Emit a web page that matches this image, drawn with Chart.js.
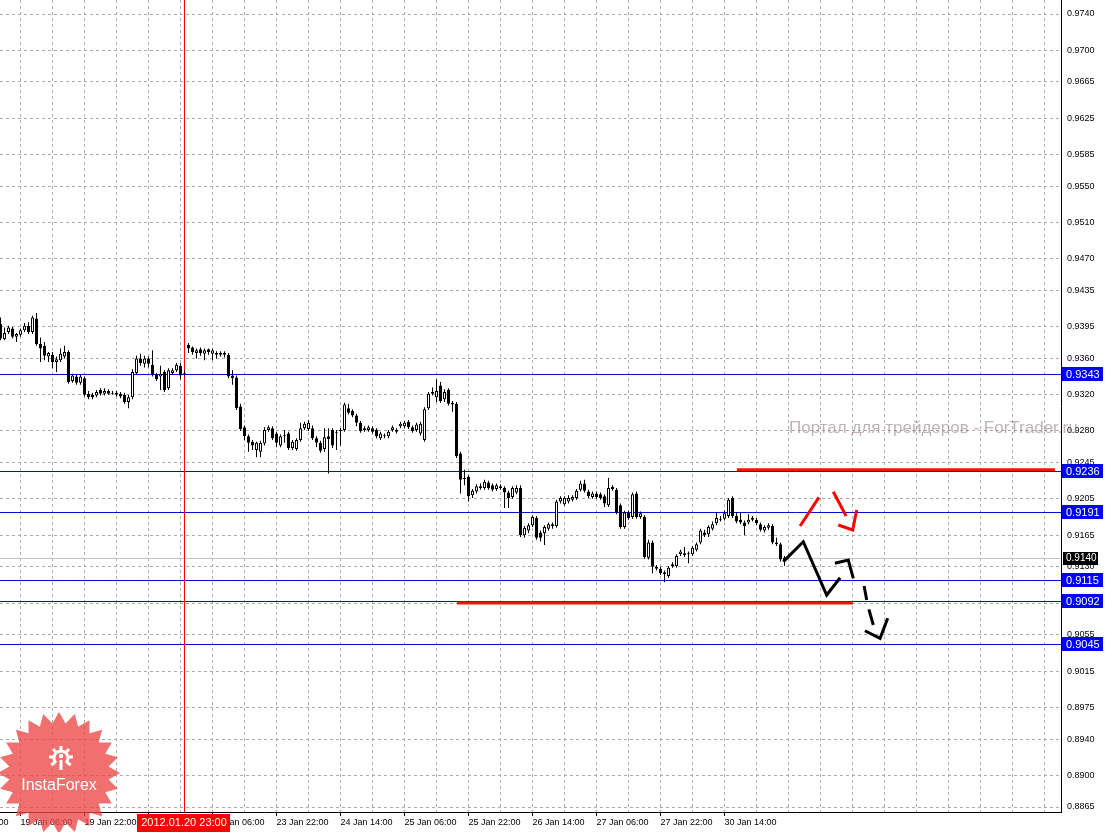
<!DOCTYPE html>
<html>
<head>
<meta charset="utf-8">
<script src="https://cdn.jsdelivr.net/npm/chart.js@4.4.1/dist/chart.umd.min.js"></script>
<style>
  body { margin: 0; background: #ffffff; }
  canvas { display: block; }
</style>
</head>
<body>
<canvas id="chart" width="1105" height="832"></canvas>
<script>
// H1 candles, bar 0 = 19 Jan 01:00
const opens = [
  0.9398,0.9381,0.9389,0.9393,0.9384,0.9386,0.9391,0.9396,0.9389,0.9404,
  0.9376,0.9374,0.9362,0.9364,0.9356,0.9358,0.9362,0.9367,0.9335,0.9340,
  0.9333,0.9338,0.9321,0.9320,0.9319,0.9325,0.9321,0.9324,0.9321,0.9322,
  0.9321,0.9320,0.9312,0.9317,0.9344,0.9360,0.9354,0.9360,0.9353,0.9342,
  0.9340,0.9345,0.9327,0.9344,0.9347,0.9352,0.9344,0.9375,0.9372,0.9366,
  0.9370,0.9365,0.9370,0.9365,0.9366,0.9364,0.9366,0.9364,0.9341,0.9339,
  0.9307,0.9284,0.9274,0.9268,0.9259,0.9257,0.9266,0.9281,0.9283,0.9277,
  0.9264,0.9274,0.9277,0.9261,0.9260,0.9270,0.9283,0.9282,0.9283,0.9272,
  0.9267,0.9260,0.9274,0.9281,0.9278,0.9280,0.9281,0.9305,0.9302,0.9297,
  0.9289,0.9283,0.9281,0.9283,0.9281,0.9272,0.9275,0.9274,0.9281,0.9279,
  0.9285,0.9285,0.9290,0.9284,0.9281,0.9277,0.9270,0.9305,0.9321,0.9317,
  0.9330,0.9315,0.9325,0.9311,0.9310,0.9255,0.9228,0.9229,0.9209,0.9213,
  0.9219,0.9217,0.9223,0.9220,0.9216,0.9219,0.9217,0.9212,0.9207,0.9212,
  0.9217,0.9165,0.9170,0.9176,0.9184,0.9168,0.9167,0.9172,0.9177,0.9175,
  0.9202,0.9199,0.9202,0.9204,0.9206,0.9215,0.9222,0.9213,0.9207,0.9211,
  0.9210,0.9208,0.9198,0.9216,0.9215,0.9198,0.9174,0.9190,0.9185,0.9211,
  0.9185,0.9185,0.9140,0.9157,0.9130,0.9128,0.9122,0.9120,0.9131,0.9131,
  0.9144,0.9143,0.9145,0.9144,0.9149,0.9157,0.9168,0.9166,0.9172,0.9178,
  0.9183,0.9183,0.9186,0.9206,0.9186,0.9182,0.9179,0.9179,0.9182,0.9182,
  0.9177,0.9170,0.9173,0.9175,0.9157,0.9155,0.9136
];
const highs = [
  0.9405,0.9394,0.9396,0.9395,0.9388,0.9393,0.9399,0.9400,0.9407,0.9410,
  0.9383,0.9378,0.9367,0.9367,0.9362,0.9371,0.9374,0.9369,0.9343,0.9342,
  0.9342,0.9340,0.9324,0.9322,0.9325,0.9327,0.9327,0.9326,0.9324,0.9324,
  0.9323,0.9322,0.9320,0.9348,0.9363,0.9365,0.9363,0.9362,0.9369,0.9344,
  0.9352,0.9347,0.9349,0.9349,0.9355,0.9355,0.9347,0.9377,0.9373,0.9371,
  0.9372,0.9371,0.9371,0.9371,0.9368,0.9368,0.9368,0.9366,0.9347,0.9341,
  0.9310,0.9286,0.9276,0.9270,0.9268,0.9269,0.9284,0.9286,0.9285,0.9279,
  0.9276,0.9281,0.9279,0.9270,0.9272,0.9289,0.9290,0.9292,0.9286,0.9274,
  0.9269,0.9283,0.9283,0.9283,0.9281,0.9283,0.9311,0.9310,0.9304,0.9299,
  0.9291,0.9285,0.9286,0.9285,0.9283,0.9279,0.9277,0.9281,0.9286,0.9283,
  0.9290,0.9291,0.9292,0.9286,0.9289,0.9290,0.9306,0.9323,0.9328,0.9337,
  0.9334,0.9326,0.9327,0.9313,0.9312,0.9257,0.9237,0.9231,0.9216,0.9221,
  0.9222,0.9226,0.9225,0.9222,0.9222,0.9221,0.9219,0.9214,0.9219,0.9220,
  0.9220,0.9175,0.9178,0.9187,0.9186,0.9170,0.9176,0.9179,0.9179,0.9204,
  0.9208,0.9208,0.9209,0.9209,0.9216,0.9225,0.9226,0.9215,0.9213,0.9213,
  0.9212,0.9210,0.9228,0.9220,0.9217,0.9200,0.9192,0.9192,0.9212,0.9213,
  0.9191,0.9187,0.9160,0.9159,0.9132,0.9130,0.9126,0.9131,0.9135,0.9144,
  0.9149,0.9152,0.9147,0.9153,0.9157,0.9172,0.9171,0.9176,0.9180,0.9190,
  0.9186,0.9192,0.9206,0.9208,0.9190,0.9190,0.9181,0.9188,0.9186,0.9184,
  0.9179,0.9176,0.9178,0.9177,0.9162,0.9157,0.9142
];
const lows = [
  0.9380,0.9380,0.9387,0.9382,0.9378,0.9384,0.9389,0.9387,0.9387,0.9374,
  0.9356,0.9358,0.9356,0.9349,0.9345,0.9356,0.9360,0.9332,0.9333,0.9331,
  0.9331,0.9318,0.9315,0.9315,0.9317,0.9319,0.9319,0.9320,0.9320,0.9318,
  0.9316,0.9310,0.9305,0.9315,0.9342,0.9352,0.9350,0.9350,0.9340,0.9335,
  0.9325,0.9323,0.9325,0.9342,0.9345,0.9337,0.9340,0.9366,0.9364,0.9360,
  0.9363,0.9358,0.9364,0.9358,0.9360,0.9362,0.9361,0.9338,0.9331,0.9303,
  0.9280,0.9270,0.9257,0.9259,0.9251,0.9251,0.9264,0.9279,0.9270,0.9262,
  0.9262,0.9267,0.9259,0.9259,0.9258,0.9268,0.9281,0.9280,0.9270,0.9262,
  0.9256,0.9257,0.9233,0.9261,0.9259,0.9264,0.9279,0.9298,0.9295,0.9285,
  0.9278,0.9279,0.9279,0.9277,0.9272,0.9270,0.9272,0.9272,0.9279,0.9277,
  0.9283,0.9283,0.9282,0.9278,0.9279,0.9275,0.9268,0.9303,0.9319,0.9312,
  0.9311,0.9312,0.9308,0.9301,0.9250,0.9211,0.9220,0.9202,0.9206,0.9211,
  0.9215,0.9215,0.9215,0.9213,0.9214,0.9215,0.9195,0.9195,0.9205,0.9210,
  0.9163,0.9162,0.9167,0.9174,0.9160,0.9158,0.9154,0.9170,0.9172,0.9173,
  0.9200,0.9197,0.9200,0.9202,0.9204,0.9213,0.9212,0.9206,0.9205,0.9205,
  0.9204,0.9196,0.9196,0.9214,0.9188,0.9172,0.9172,0.9182,0.9183,0.9183,
  0.9183,0.9139,0.9138,0.9123,0.9126,0.9121,0.9113,0.9118,0.9129,0.9129,
  0.9142,0.9141,0.9134,0.9142,0.9147,0.9155,0.9163,0.9163,0.9170,0.9176,
  0.9180,0.9181,0.9184,0.9184,0.9178,0.9177,0.9165,0.9177,0.9180,0.9176,
  0.9169,0.9168,0.9171,0.9155,0.9153,0.9136,0.9131
];
const closes = [
  0.9382,0.9388,0.9394,0.9384,0.9387,0.9391,0.9396,0.9389,0.9405,0.9376,
  0.9371,0.9363,0.9366,0.9356,0.9359,0.9365,0.9367,0.9334,0.9341,0.9333,
  0.9340,0.9320,0.9317,0.9317,0.9323,0.9321,0.9324,0.9321,0.9322,0.9320,
  0.9318,0.9312,0.9317,0.9345,0.9360,0.9355,0.9360,0.9354,0.9342,0.9337,
  0.9343,0.9325,0.9347,0.9347,0.9353,0.9341,0.9343,0.9371,0.9367,0.9369,
  0.9366,0.9369,0.9367,0.9369,0.9364,0.9366,0.9364,0.9340,0.9338,0.9305,
  0.9282,0.9274,0.9267,0.9264,0.9267,0.9267,0.9281,0.9284,0.9272,0.9267,
  0.9274,0.9275,0.9261,0.9268,0.9270,0.9283,0.9288,0.9289,0.9272,0.9267,
  0.9258,0.9273,0.9271,0.9264,0.9279,0.9281,0.9309,0.9300,0.9297,0.9289,
  0.9280,0.9281,0.9284,0.9279,0.9274,0.9277,0.9274,0.9279,0.9284,0.9281,
  0.9288,0.9289,0.9284,0.9280,0.9287,0.9288,0.9304,0.9321,0.9323,0.9324,
  0.9313,0.9323,0.9310,0.9309,0.9252,0.9226,0.9227,0.9208,0.9214,0.9219,
  0.9217,0.9224,0.9217,0.9215,0.9220,0.9217,0.9212,0.9206,0.9217,0.9217,
  0.9165,0.9173,0.9176,0.9185,0.9162,0.9162,0.9174,0.9177,0.9175,0.9202,
  0.9206,0.9206,0.9206,0.9207,0.9214,0.9222,0.9214,0.9208,0.9211,0.9207,
  0.9206,0.9200,0.9217,0.9218,0.9190,0.9174,0.9190,0.9184,0.9210,0.9185,
  0.9189,0.9141,0.9157,0.9130,0.9128,0.9123,0.9124,0.9129,0.9133,0.9142,
  0.9147,0.9145,0.9144,0.9151,0.9155,0.9170,0.9165,0.9174,0.9177,0.9184,
  0.9182,0.9189,0.9204,0.9186,0.9180,0.9179,0.9175,0.9182,0.9184,0.9178,
  0.9171,0.9174,0.9176,0.9157,0.9155,0.9138,0.9140
];

// axis labels
const priceTicks = [0.9740, 0.9700, 0.9665, 0.9625, 0.9585, 0.9550, 0.9510, 0.9470, 0.9435, 0.9395,
  0.9360, 0.9320, 0.9280, 0.9245, 0.9205, 0.9165, 0.9130, 0.9090, 0.9055, 0.9015,
  0.8975, 0.8940, 0.8900, 0.8865];
const timeTickBars = [-11, 5, 21, 37, 53, 69, 85, 101, 117, 133, 149, 165, 181];
const timeLabels = ['18 Jan 14:00', '19 Jan 06:00', '19 Jan 22:00', '20 Jan 14:00', '23 Jan 06:00',
  '23 Jan 22:00', '24 Jan 14:00', '25 Jan 06:00', '25 Jan 22:00', '26 Jan 14:00',
  '27 Jan 06:00', '27 Jan 22:00', '30 Jan 14:00'];

// horizontal levels and markers
const levelPrices = [0.9343, 0.9236, 0.9191, 0.9115, 0.9092, 0.9045];
const bidPrice = 0.9140;
const crossBar = 46;
const crossLabel = '2012.01.20 23:00';

// hand drawn lines, [bar, price] per point
const redLevels = [
  [[114.1, 0.9090], [213.1, 0.9090]],
  [[184.1, 0.9237], [263.6, 0.9237]]
];
const forecastBlack = [
  [[195.7, 0.91357], [200.7, 0.91577], [206.55, 0.90989], [209.9, 0.91180]],
  [[208.6, 0.91339], [211.95, 0.91375], [213.2, 0.91173]],
  [[215.9, 0.91089], [216.55, 0.90934]],
  [[217.1, 0.90831], [218.2, 0.90658]],
  [[216.1, 0.90595], [219.9, 0.90511], [221.8, 0.90732]]
];
const forecastRed = [
  [[199.9, 0.91751], [204.6, 0.92067]],
  [[208.2, 0.92129], [211.4, 0.91861]],
  [[209.45, 0.91762], [213.05, 0.91707], [214.05, 0.91927]]
];

const FONT = '"Liberation Sans", Arial, sans-serif';

function strokePoints(strokes) {
  const pts = [];
  strokes.forEach(s => {
    s.forEach(p => pts.push({ x: p[0], y: p[1] }));
    pts.push({ x: s[s.length - 1][0], y: null });
  });
  return pts;
}

function drawLogo(ctx) {
  const cx = 59, cy = 773;
  ctx.save();
  ctx.beginPath();
  for (let k = 0; k < 48; k++) {
    const r = k % 2 ? 50 : 61;
    const a = -Math.PI / 2 + k * Math.PI / 24;
    ctx.lineTo(cx + r * Math.cos(a), cy + r * Math.sin(a));
  }
  ctx.closePath();
  ctx.fillStyle = 'rgba(236, 70, 70, 0.78)';
  ctx.fill();

  // gear icon
  ctx.strokeStyle = '#ffffff';
  ctx.fillStyle = '#ffffff';
  ctx.lineWidth = 3;
  ctx.beginPath();
  ctx.arc(cx + 2, 758, 7, Math.PI * 0.75, Math.PI * 2.25);
  ctx.stroke();
  for (let k = 0; k < 7; k++) {
    const a = Math.PI * 0.8 + k * Math.PI * 1.4 / 6;
    ctx.beginPath();
    ctx.moveTo(cx + 2 + 8 * Math.cos(a), 758 + 8 * Math.sin(a));
    ctx.lineTo(cx + 2 + 12 * Math.cos(a), 758 + 12 * Math.sin(a));
    ctx.stroke();
  }
  ctx.beginPath();
  ctx.arc(cx + 2, 756, 2.2, 0, Math.PI * 2);
  ctx.fill();
  ctx.fillRect(cx + 0.5, 760, 3, 10);

  ctx.font = '16px ' + FONT;
  ctx.textAlign = 'center';
  ctx.textBaseline = 'alphabetic';
  ctx.fillText('InstaForex', cx, 790);
  ctx.restore();
}

const overlay = {
  id: 'overlay',
  beforeDatasetsDraw(chart) {
    const { ctx, chartArea: a, scales: { x, y } } = chart;
    ctx.save();
    ctx.lineWidth = 1;

    const yb = Math.round(y.getPixelForValue(bidPrice)) + 0.5;
    ctx.strokeStyle = '#c4c4c4';
    ctx.beginPath();
    ctx.moveTo(a.left, yb);
    ctx.lineTo(a.right, yb);
    ctx.stroke();

    ctx.strokeStyle = '#0010d0';
    levelPrices.forEach(p => {
      const py = Math.round(y.getPixelForValue(p)) + 0.5;
      ctx.beginPath();
      ctx.moveTo(a.left, py);
      ctx.lineTo(a.right, py);
      ctx.stroke();
    });

    const xc = Math.floor(x.getPixelForValue(crossBar)) + 0.5;
    ctx.strokeStyle = '#ff0000';
    ctx.beginPath();
    ctx.moveTo(xc, a.top);
    ctx.lineTo(xc, a.bottom);
    ctx.stroke();
    ctx.restore();
  },
  afterDraw(chart) {
    const { ctx, chartArea: a, scales: { x, y } } = chart;
    ctx.save();

    // watermark
    ctx.font = '17px ' + FONT;
    ctx.fillStyle = 'rgba(150, 128, 128, 0.6)';
    ctx.textAlign = 'left';
    ctx.textBaseline = 'alphabetic';
    ctx.fillText('Портал для трейдеров - ForTrader.ru', 789, 433);

    // price boxes
    ctx.textBaseline = 'middle';
    ctx.font = '11px ' + FONT;
    levelPrices.forEach(p => {
      const py = Math.round(y.getPixelForValue(p));
      ctx.fillStyle = '#0000ff';
      ctx.fillRect(a.right + 1, py - 7, 41, 14);
      ctx.fillStyle = '#ffffff';
      ctx.fillText(p.toFixed(4), a.right + 5, py + 0.5);
    });
    const pb = Math.round(y.getPixelForValue(bidPrice));
    ctx.fillStyle = '#000000';
    ctx.fillRect(a.right + 2, pb - 6, 35, 13);
    ctx.fillStyle = '#ffffff';
    ctx.font = '10px ' + FONT;
    ctx.fillText(bidPrice.toFixed(4), a.right + 5, pb + 0.5);

    // crosshair time box
    const xc = Math.floor(x.getPixelForValue(crossBar));
    ctx.fillStyle = '#ff0000';
    ctx.fillRect(xc - 47, a.bottom + 2, 93, 18);
    ctx.fillStyle = '#ffffff';
    ctx.font = '11px ' + FONT;
    ctx.textAlign = 'center';
    ctx.fillText(crossLabel, xc, a.bottom + 11);
    ctx.restore();

    drawLogo(ctx);
  }
};

const ctx = document.getElementById('chart').getContext('2d');
Chart.defaults.font.family = FONT;
Chart.defaults.font.size = 9;
Chart.defaults.color = '#000000';

new Chart(ctx, {
  type: 'bar',
  data: {
    datasets: [
      {
        type: 'line',
        data: strokePoints(forecastBlack),
        borderColor: '#000000',
        borderWidth: 3,
        pointRadius: 0,
        tension: 0,
        order: -2
      },
      {
        type: 'line',
        data: strokePoints(forecastRed),
        borderColor: '#ff0000',
        borderWidth: 3,
        pointRadius: 0,
        tension: 0,
        order: -2
      },
      {
        type: 'line',
        data: strokePoints(redLevels),
        borderColor: '#ec1515',
        borderWidth: 3,
        pointRadius: 0,
        tension: 0,
        order: -1
      },
      {
        data: opens.map((o, i) => ({ x: i, y: [o, closes[i]] })),
        backgroundColor: c => closes[c.dataIndex] >= opens[c.dataIndex] ? '#ffffff' : '#000000',
        borderColor: '#000000',
        borderWidth: 1,
        borderSkipped: false,
        barThickness: 3,
        minBarLength: 1,
        inflateAmount: 0,
        grouped: false,
        order: 0
      },
      {
        data: highs.map((h, i) => ({ x: i, y: [lows[i], h] })),
        backgroundColor: '#000000',
        borderWidth: 0,
        barThickness: 1,
        minBarLength: 1,
        inflateAmount: 0,
        grouped: false,
        order: 1
      }
    ]
  },
  options: {
    responsive: false,
    animation: false,
    events: [],
    layout: { padding: 0 },
    plugins: {
      legend: { display: false },
      tooltip: { enabled: false }
    },
    scales: {
      x: {
        type: 'linear',
        min: -0.125,
        max: 265.125,
        offset: false,
        afterBuildTicks: scale => {
          const t = [];
          for (let b = -11; b <= 265; b += 8) t.push({ value: b });
          scale.ticks = t;
        },
        afterFit: scale => {
          scale.height = 20;
          scale.paddingLeft = 0;
          scale.paddingRight = 0;
        },
        grid: {
          offset: false,
          color: '#a9b2a9',
          lineWidth: 1,
          drawTicks: true,
          tickLength: 4,
          tickWidth: 1,
          tickBorderDash: [],
          tickColor: c => (c.tick && timeTickBars.includes(c.tick.value)) ? '#000000' : 'rgba(0,0,0,0)'
        },
        border: { display: true, color: '#000000', width: 1, dash: [3, 3] },
        ticks: {
          autoSkip: false,
          maxRotation: 0,
          minRotation: 0,
          align: 'start',
          padding: 1,
          font: { size: 9 },
          callback: value => {
            const k = timeTickBars.indexOf(value);
            return k >= 0 ? timeLabels[k] : '';
          }
        }
      },
      y: {
        position: 'right',
        min: 0.885950,
        max: 0.975545,
        afterBuildTicks: scale => {
          scale.ticks = priceTicks.map(v => ({ value: v }));
        },
        afterFit: scale => {
          scale.width = 44;
          scale.paddingTop = 0;
          scale.paddingBottom = 0;
        },
        grid: {
          color: '#a9aaa9',
          lineWidth: 1,
          drawTicks: false
        },
        border: { display: true, color: '#000000', width: 1, dash: [3, 3] },
        ticks: {
          autoSkip: false,
          padding: 6,
          font: { size: 9 },
          callback: v => v.toFixed(4)
        }
      }
    }
  },
  plugins: [overlay]
});
</script>
</body>
</html>
